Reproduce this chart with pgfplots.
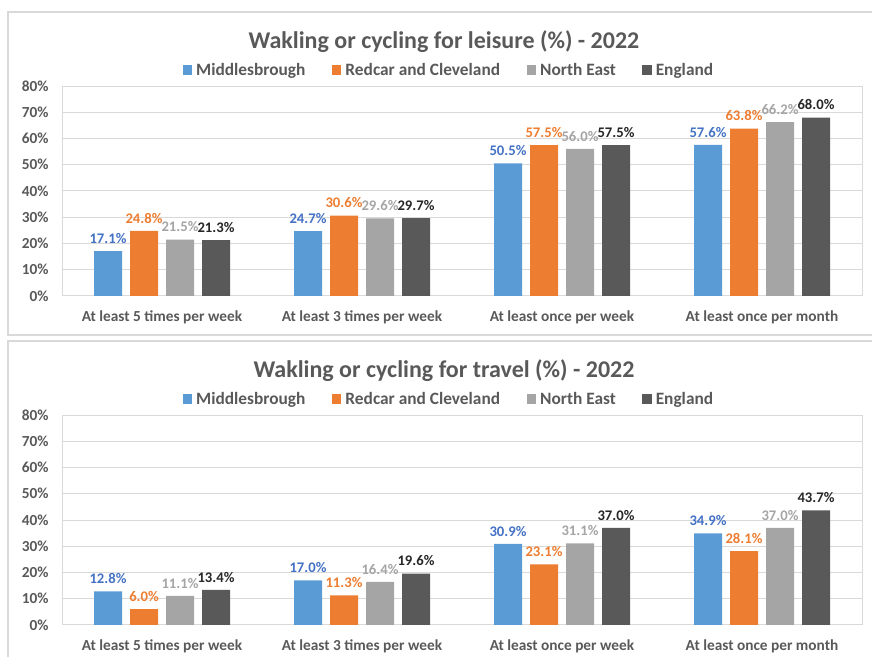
\documentclass[border=0pt]{standalone}
\usepackage{pgfplots}
\pgfplotsset{compat=1.18}
\usepackage{fontspec}
\setmainfont{Carlito}
\definecolor{cblue}{HTML}{5B9BD5}
\definecolor{corange}{HTML}{ED7D31}
\definecolor{cgray}{HTML}{A5A5A5}
\definecolor{cdark}{HTML}{595959}
\definecolor{tblue}{HTML}{4472C4}
\definecolor{tdark}{HTML}{262626}
\definecolor{gridc}{HTML}{D9D9D9}
\definecolor{labc}{HTML}{595959}

\pgfplotsset{
  chartstyle/.style={
    /pgf/number format/assume math mode=true,
    scale only axis, width=600pt, height=157.5pt,
    anchor=south west,
    ybar=6pt, bar width=21pt,
    xmin=-0.5, xmax=3.5, ymin=0, ymax=80,
    xtick={0,1,2,3},
    xticklabels={At least 5 times per week, At least 3 times per week, At least once per week, At least once per month},
    ytick={0,10,...,80},
    yticklabel={\pgfmathprintnumber{\tick}\%},
    major tick length=0pt,
    ymajorgrids, grid style={draw=gridc, line width=0.75pt},
    axis line style={draw=gridc, line width=0.75pt},
    tick label style={font=\fontsize{11.5}{13}\selectfont\bfseries, text=labc},
    xticklabel style={yshift=-7.5pt},
    yticklabel style={xshift=-6.5pt},
    title style={font=\fontsize{18}{21}\selectfont\bfseries, text=labc, at={(0.5,1)}, anchor=center, yshift=27pt, xshift=-13.5pt},
    legend style={at={(0.5,1)}, anchor=center, yshift=12pt, xshift=-9pt, draw=none, fill=none,
      font=\fontsize{13}{15}\selectfont\bfseries, text=labc, legend columns=4,
      nodes={inner sep=3pt},
      /tikz/every even column/.append style={column sep=17pt}},
    legend image code/.code={\fill[##1] (0pt,-3.5pt) rectangle (7pt,3.5pt);},
    nodes near coords={\pgfmathprintnumber[fixed,fixed zerofill,precision=1]{\pgfplotspointmeta}\%},
    nodes near coords style={font=\fontsize{11}{13}\selectfont\bfseries, inner sep=1pt, yshift=4.5pt},
    clip=false,
  },
  s1/.style={fill=cblue, draw=none, every node near coord/.append style={text=tblue}},
  s2/.style={fill=corange, draw=none, every node near coord/.append style={text=corange}},
  s3/.style={fill=cgray, draw=none, every node near coord/.append style={text=cgray}},
  s4/.style={fill=cdark, draw=none, every node near coord/.append style={text=tdark}},
}

\begin{document}
\begin{tikzpicture}
\useasboundingbox (0pt,0pt) rectangle (654pt,492.75pt);
\draw[gridc, line width=1pt] (6pt,241.5pt) rectangle (670pt,483.75pt);
\draw[gridc, line width=1pt] (6pt,-10pt) rectangle (670pt,237pt);

\begin{axis}[chartstyle, at={(46.5pt,270.75pt)}, title={Wakling or cycling for leisure (\%) - 2022}]
\addplot[s1] coordinates {(0,17.1) (1,24.7) (2,50.5) (3,57.6)};
\addplot[s2] coordinates {(0,24.8) (1,30.6) (2,57.5) (3,63.8)};
\addplot[s3] coordinates {(0,21.5) (1,29.6) (2,56.0) (3,66.2)};
\addplot[s4] coordinates {(0,21.3) (1,29.7) (2,57.5) (3,68.0)};
\legend{Middlesbrough, Redcar and Cleveland, North East, England}
\end{axis}

\begin{axis}[chartstyle, at={(46.5pt,24pt)}, title={Wakling or cycling for travel (\%) - 2022}]
\addplot[s1] coordinates {(0,12.8) (1,17.0) (2,30.9) (3,34.9)};
\addplot[s2] coordinates {(0,6.0) (1,11.3) (2,23.1) (3,28.1)};
\addplot[s3] coordinates {(0,11.1) (1,16.4) (2,31.1) (3,37.0)};
\addplot[s4] coordinates {(0,13.4) (1,19.6) (2,37.0) (3,43.7)};
\legend{Middlesbrough, Redcar and Cleveland, North East, England}
\end{axis}
\end{tikzpicture}
\end{document}
